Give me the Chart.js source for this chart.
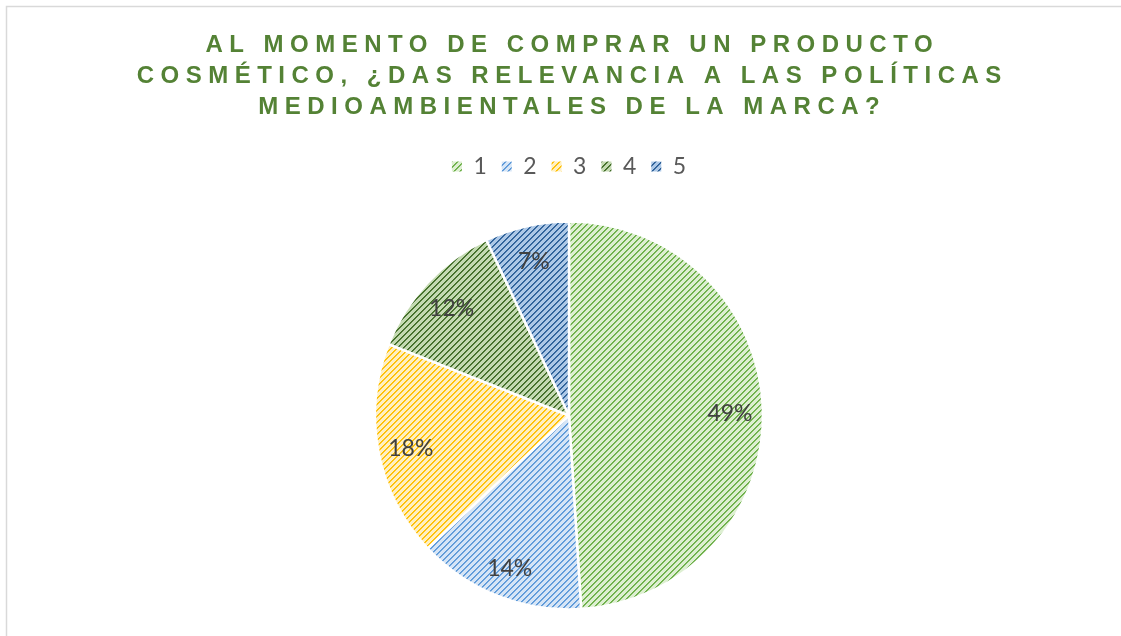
<!DOCTYPE html>
<html lang="es">
<head>
  <meta charset="UTF-8">
  <script src="https://cdn.jsdelivr.net/npm/chart.js@4.4.0/dist/chart.umd.min.js"></script>
  <title>Políticas medioambientales</title>
  <style>
    body { margin: 0; background: #fff; }
  </style>
</head>
<body>
  <canvas id="chart" width="1121" height="636"></canvas>

  <script>
    // data
    const categories = ['1', '2', '3', '4', '5'];
    const percents = [49, 14, 18, 12, 7];
    const titleLines = [
      'AL MOMENTO DE COMPRAR UN PRODUCTO',
      'COSMÉTICO, ¿DAS RELEVANCIA A LAS POLÍTICAS',
      'MEDIOAMBIENTALES DE LA MARCA?'
    ];

    // stripe colour and tint behind it, one per slice
    const stripeColors = ['#6AAE45', '#5A98D8', '#FFBE00', '#3F6B25', '#2A5E96'];
    const tintColors = ['#DDEFD1', '#D6E5F6', '#FFF0C2', '#C4DAB2', '#ADC8E7'];

    // 01 diagonal stripe pattern like the Excel fill
    function stripePattern(fg, bg) {
      const size = 6;
      const tile = document.createElement('canvas');
      tile.width = size;
      tile.height = size;
      const c = tile.getContext('2d');
      c.fillStyle = bg;
      c.fillRect(0, 0, size, size);
      for (let x = 0; x < size; x++) {
        for (let y = 0; y < size; y++) {
          const k = (x + y) % size;
          if (k === 0 || k === 1) {
            c.globalAlpha = k === 0 ? 1 : 0.85;
            c.fillStyle = fg;
            c.fillRect(x, y, 1, 1);
            c.globalAlpha = 1;
          }
        }
      }
      return c.createPattern(tile, 'repeat');
    }

    const fills = stripeColors.map((fg, i) => stripePattern(fg, tintColors[i]));

    // 02 frame and spaced-out title
    const frameAndTitle = {
      id: 'frameAndTitle',
      beforeDraw(chart) {
        const ctx = chart.ctx;
        ctx.save();
        ctx.strokeStyle = '#D9D9D9';
        ctx.lineWidth = 1.5;
        ctx.strokeRect(6.5, 6.5, 2000, 2000);
        ctx.restore();
      },
      afterDraw(chart) {
        const ctx = chart.ctx;
        const spacing = 6.5;
        ctx.save();
        ctx.font = 'bold 24px "Liberation Sans", Arial, sans-serif';
        ctx.letterSpacing = spacing + 'px';
        ctx.fillStyle = '#548235';
        ctx.textAlign = 'center';
        ctx.textBaseline = 'middle';
        titleLines.forEach((line, i) => {
          ctx.fillText(line, 569 + spacing / 2, 45 + i * 31.3);
        });
        ctx.restore();
      }
    };

    // 03 extra room under the legend
    const legendGap = {
      id: 'legendGap',
      beforeInit(chart) {
        const fit = chart.legend.fit;
        chart.legend.fit = function () {
          fit.call(this);
          this.height += 7;
        };
      }
    };

    // 04 percentage labels inside the slices
    const sliceLabels = {
      id: 'sliceLabels',
      afterDatasetsDraw(chart) {
        const ctx = chart.ctx;
        const meta = chart.getDatasetMeta(0);
        ctx.save();
        ctx.font = '23px Lato, "Open Sans", sans-serif';
        ctx.fillStyle = '#404040';
        ctx.textAlign = 'center';
        ctx.textBaseline = 'middle';
        meta.data.forEach((arc, i) => {
          const p = arc.getProps(['x', 'y', 'startAngle', 'endAngle', 'outerRadius'], true);
          const mid = (p.startAngle + p.endAngle) / 2;
          const r = p.outerRadius * 0.83;
          ctx.fillText(percents[i] + '%', p.x + Math.cos(mid) * r, p.y + Math.sin(mid) * r + 3);
        });
        ctx.restore();
      }
    };

    const elChart = document.getElementById('chart').getContext('2d');
    const myChart = new Chart(elChart, {
      type: 'pie',
      data: {
        labels: categories,
        datasets: [{
          data: percents,
          backgroundColor: fills,
          borderColor: '#FFFFFF',
          borderWidth: 2.5,
          radius: 194
        }]
      },
      options: {
        responsive: false,
        animation: false,
        layout: {
          padding: { top: 140, bottom: 0, left: 17, right: 0 }
        },
        plugins: {
          tooltip: { enabled: false },
          legend: {
            position: 'top',
            labels: {
              boxWidth: 10,
              boxHeight: 10,
              padding: 15,
              color: '#595959',
              font: { family: 'Lato, "Open Sans", sans-serif', size: 23 },
              generateLabels(chart) {
                return categories.map((label, i) => ({
                  text: label,
                  fillStyle: fills[i],
                  strokeStyle: fills[i],
                  lineWidth: 0,
                  fontColor: '#595959',
                  index: i
                }));
              }
            }
          }
        }
      },
      plugins: [frameAndTitle, legendGap, sliceLabels]
    });
  </script>
</body>
</html>
